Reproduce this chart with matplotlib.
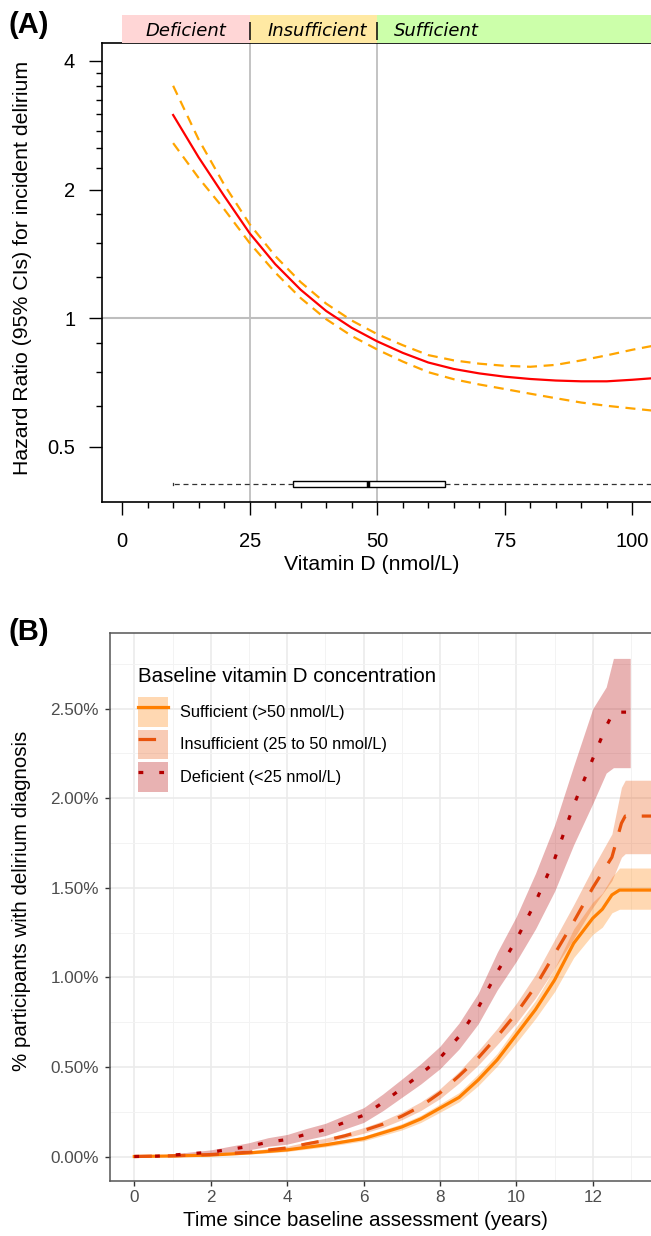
import numpy as np
import matplotlib
matplotlib.use("Agg")
import matplotlib.pyplot as plt
from matplotlib.lines import Line2D
from matplotlib.patches import Patch
from matplotlib.ticker import FixedLocator, FixedFormatter, NullFormatter

plt.rcParams["font.family"] = ["Liberation Sans", "DejaVu Sans"]

# ------------------------------------------------
# DATA - panel A (spline hazard ratio)
# ------------------------------------------------

vitd   = [10, 15, 20, 25, 30, 35, 40, 45, 50, 55, 60, 65, 70, 75, 80, 85, 90, 95, 100, 104]
hr     = [2.99, 2.38, 1.933, 1.581, 1.339, 1.166, 1.04, 0.95, 0.883, 0.83, 0.788, 0.761,
          0.743, 0.730, 0.721, 0.715, 0.712, 0.712, 0.718, 0.724]
hr_lo  = [2.57, 2.13, 1.80, 1.50, 1.28, 1.115, 0.995, 0.909, 0.845, 0.792, 0.748, 0.72,
          0.70, 0.683, 0.666, 0.65, 0.635, 0.624, 0.615, 0.608]
hr_hi  = [3.50, 2.62, 2.055, 1.66, 1.399, 1.215, 1.082, 0.988, 0.918, 0.865, 0.82, 0.797,
          0.783, 0.774, 0.770, 0.778, 0.797, 0.819, 0.844, 0.862]

vitd_box = dict(whislo=10, q1=33.4, med=48.2, q3=63.2, whishi=130)
cuts     = [25, 50]
zones    = [("Deficient", 0, 25, "#FFD6D6"),
            ("Insufficient", 25, 50, "#FFE9A3"),
            ("Sufficient", 50, 110, "#CCFFAA")]

# ------------------------------------------------
# DATA - panel B (cumulative incidence, %)
# ------------------------------------------------

t_suf  = [0, 1, 2, 3, 4, 5, 6, 7, 7.5, 8, 8.5, 9, 9.5, 10, 10.5, 11, 11.5, 12, 12.25, 12.5, 12.7, 13.8]
suf    = [0, 0.003, 0.008, 0.02, 0.037, 0.065, 0.10, 0.165, 0.21, 0.27, 0.33, 0.427, 0.54,
          0.68, 0.82, 0.985, 1.19, 1.33, 1.38, 1.46, 1.487, 1.487]
suf_lo = [0, 0.001, 0.004, 0.013, 0.028, 0.054, 0.087, 0.148, 0.19, 0.247, 0.305, 0.395,
          0.505, 0.635, 0.77, 0.92, 1.11, 1.24, 1.28, 1.36, 1.38, 1.38]
suf_hi = [0, 0.005, 0.012, 0.027, 0.046, 0.077, 0.114, 0.183, 0.23, 0.293, 0.357, 0.46,
          0.576, 0.725, 0.87, 1.05, 1.27, 1.42, 1.47, 1.56, 1.61, 1.61]

t_ins  = [0, 1, 2, 3, 4, 4.5, 5, 5.5, 6, 6.5, 7, 7.5, 8, 8.5, 9, 9.5, 10, 10.5, 11, 11.5,
          12, 12.5, 12.75, 12.85, 13.8]
ins    = [0, 0.004, 0.011, 0.024, 0.048, 0.07, 0.09, 0.115, 0.145, 0.18, 0.225, 0.28, 0.355,
          0.45, 0.55, 0.67, 0.80, 0.95, 1.13, 1.31, 1.50, 1.67, 1.86, 1.90, 1.90]
ins_lo = [0, 0.002, 0.007, 0.018, 0.040, 0.060, 0.079, 0.102, 0.130, 0.162, 0.205, 0.257,
          0.323, 0.41, 0.51, 0.625, 0.745, 0.885, 1.05, 1.215, 1.39, 1.54, 1.67, 1.69, 1.69]
ins_hi = [0, 0.007, 0.016, 0.031, 0.057, 0.081, 0.102, 0.129, 0.161, 0.199, 0.247, 0.305,
          0.378, 0.475, 0.59, 0.715, 0.855, 1.015, 1.21, 1.405, 1.61, 1.80, 2.06, 2.10, 2.10]

t_def  = [0, 0.6, 1, 1.5, 2, 2.5, 3, 3.5, 4, 4.5, 5, 5.5, 6, 6.5, 7, 7.5, 8, 8.5, 9, 9.5,
          10, 10.5, 11, 11.5, 12, 12.35, 12.54, 12.98]
dfc    = [0, 0.002, 0.008, 0.016, 0.024, 0.04, 0.056, 0.08, 0.095, 0.124, 0.15, 0.19, 0.23,
          0.30, 0.38, 0.46, 0.55, 0.67, 0.83, 1.03, 1.21, 1.42, 1.66, 1.96, 2.22, 2.40, 2.48, 2.48]
dfc_lo = [0, 0, 0.003, 0.008, 0.013, 0.025, 0.037, 0.057, 0.069, 0.094, 0.117, 0.153, 0.19,
          0.255, 0.33, 0.405, 0.49, 0.60, 0.74, 0.93, 1.09, 1.27, 1.48, 1.74, 1.97, 2.14, 2.17, 2.17]
dfc_hi = [0, 0.006, 0.014, 0.026, 0.037, 0.057, 0.077, 0.105, 0.123, 0.156, 0.185, 0.229,
          0.272, 0.348, 0.432, 0.518, 0.615, 0.745, 0.91, 1.14, 1.34, 1.58, 1.85, 2.18, 2.50,
          2.62, 2.78, 2.78]

groups = [
    ("Sufficient (>50 nmol/L)", t_suf, suf, suf_lo, suf_hi, "#FF7F00", "-"),
    ("Insufficient (25 to 50 nmol/L)", t_ins, ins, ins_lo, ins_hi, "#E8530C", (0, (5.5, 5))),
    ("Deficient (<25 nmol/L)", t_def, dfc, dfc_lo, dfc_hi, "#B30000", (0, (1.5, 5))),
]

# ------------------------------------------------
# FIGURE
# ------------------------------------------------

W, H = 651, 1236
fig = plt.figure(figsize=(W / 100, H / 100), dpi=100)


def rect(l, t, r, b):
    return [l / W, 1 - b / H, (r - l) / W, (b - t) / H]


# ------------------------------------------------
# PANEL A
# ------------------------------------------------

axA = fig.add_axes(rect(101.7, 43.3, 654.3, 502))
axA.set_yscale("log")
axA.set_xlim(-4, 104.3)
axA.set_ylim(0.3716, 4.40)

for c in cuts:
    axA.axvline(c, color="#BEBEBE", lw=1.3, zorder=1)
axA.axhline(1, color="#BEBEBE", lw=1.5, zorder=1)

axA.plot(vitd, hr_hi, color="#FFA500", lw=1.6, ls=(0, (4.5, 3)), zorder=3)
axA.plot(vitd, hr_lo, color="#FFA500", lw=1.6, ls=(0, (4.5, 3)), zorder=3)
axA.plot(vitd, hr, color="#FF0000", lw=1.6, zorder=4)

axA.bxp([vitd_box], positions=[0.4087], widths=[0.013], orientation="horizontal",
        showfliers=False, patch_artist=True, manage_ticks=False, capwidths=[0.005],
        boxprops=dict(facecolor="white", edgecolor="black", lw=1.0),
        whiskerprops=dict(color="#333333", lw=0.9, ls=(0, (4, 3))),
        capprops=dict(color="#333333", lw=0.9),
        medianprops=dict(color="black", lw=2.5))

axA.yaxis.set_major_locator(FixedLocator([0.5, 1, 2, 4]))
axA.yaxis.set_major_formatter(FixedFormatter(["0.5", "1", "2", "4"]))
axA.yaxis.set_minor_locator(FixedLocator([0.625, 0.75, 0.875, 1.25, 1.5, 1.75,
                                          2.25, 2.5, 2.75, 3, 3.25, 3.5, 3.75]))
axA.yaxis.set_minor_formatter(NullFormatter())
axA.xaxis.set_major_locator(FixedLocator([0, 25, 50, 75, 100]))
axA.xaxis.set_minor_locator(FixedLocator(np.arange(0, 105, 5)))

axA.tick_params(which="major", length=9.6, width=1.0, labelsize=14.5, pad=12, color="black")
axA.tick_params(axis="y", which="major", pad=9.5)
axA.tick_params(which="minor", length=4, width=1.0, color="black")
for s in axA.spines.values():
    s.set_linewidth(1.2)
    s.set_color("black")

axA.set_xlabel("Vitamin D (nmol/L)", fontsize=15.3)
axA.xaxis.label.set_va("center")
axA.xaxis.set_label_coords(0.488, (502 - 564) / 458.7)
axA.set_ylabel("Hazard Ratio (95% CIs) for incident delirium", fontsize=15.3)
axA.yaxis.label.set_va("center")
axA.yaxis.set_label_coords((22 - 101.7) / 552.6, (502 - 268) / 458.7)

# strip of vitamin D categories
strip = fig.add_axes(rect(101.7, 15, 654.3, 43.3))
strip.set_xlim(axA.get_xlim())
strip.set_ylim(0, 1)
for name, a, b, col in zones:
    strip.axvspan(a, b, color=col, lw=0)
strip.text(12.5, 0.44, "Deficient", ha="center", va="center", fontsize=13,
           style="italic", family="DejaVu Sans")
strip.text(25.0, 0.44, "|", ha="center", va="center", fontsize=13, family="DejaVu Sans")
strip.text(38.2, 0.44, "Insufficient", ha="center", va="center", fontsize=13,
           style="italic", family="DejaVu Sans")
strip.text(50.0, 0.44, "|", ha="center", va="center", fontsize=13, family="DejaVu Sans")
strip.text(53.3, 0.44, "Sufficient", ha="left", va="center", fontsize=13,
           style="italic", family="DejaVu Sans")
strip.axis("off")

fig.text(8 / W, 1 - 25 / H, "(A)", fontsize=21, fontweight="bold", va="center", ha="left")

# ------------------------------------------------
# PANEL B
# ------------------------------------------------

axB = fig.add_axes(rect(110, 633.3, 654.3, 1181))
axB.set_xlim(-0.636, 13.61)
axB.set_ylim(-0.1367, 2.920)

for name, t, est, lo, hi, col, ls in groups:
    axB.fill_between(t, lo, hi, color=col, alpha=0.3, lw=0, zorder=2)
for name, t, est, lo, hi, col, ls in groups:
    axB.plot(t, est, color=col, lw=2.3, ls=ls, zorder=3)

axB.xaxis.set_major_locator(FixedLocator(np.arange(0, 13, 2)))
axB.xaxis.set_minor_locator(FixedLocator(np.arange(1, 14, 2)))
axB.yaxis.set_major_locator(FixedLocator(np.arange(0, 2.6, 0.5)))
axB.yaxis.set_minor_locator(FixedLocator(np.arange(0.25, 2.9, 0.5)))
axB.yaxis.set_major_formatter(plt.FuncFormatter(lambda v, p: f"{v:.2f}%"))
axB.grid(which="major", color="#EBEBEB", lw=1.2, zorder=0)
axB.grid(which="minor", color="#F3F3F3", lw=0.7, zorder=0)
axB.set_axisbelow(True)
axB.tick_params(which="major", length=3.5, width=1.0, color="#333333",
                labelcolor="#4D4D4D", labelsize=12.3, pad=3)
axB.tick_params(axis="y", which="major", pad=4.5)
axB.tick_params(which="minor", length=0)
for s in axB.spines.values():
    s.set_linewidth(1.1)
    s.set_color("#555555")

axB.set_xlabel("Time since baseline assessment (years)", fontsize=14.8)
axB.xaxis.label.set_va("center")
axB.xaxis.set_label_coords(0.47, (1181 - 1221) / 547.7)
axB.set_ylabel("% participants with delirium diagnosis", fontsize=14.8)
axB.yaxis.label.set_va("center")
axB.yaxis.set_label_coords((22 - 110) / 544.3, (1181 - 901) / 547.7)

handles = []
for name, t, est, lo, hi, col, ls in groups:
    patch = Patch(facecolor=col, alpha=0.3, edgecolor="none")
    line = Line2D([], [], color=col, lw=2.3, ls=ls)
    handles.append((patch, line))
axB.text((138 - 110) / 544.3, (1181 - 677) / 547.7, "Baseline vitamin D concentration",
         transform=axB.transAxes, fontsize=14.8, ha="left", va="center")
leg = axB.legend(handles, [g[0] for g in groups],
                 loc="upper left", bbox_to_anchor=((138 - 110) / 544.3, (1181 - 697) / 547.7),
                 frameon=False, fontsize=11.8,
                 handlelength=1.85, handleheight=2.4, labelspacing=0.18, handletextpad=0.7,
                 borderpad=0, borderaxespad=0)

fig.text(8 / W, 1 - 632 / H, "(B)", fontsize=21, fontweight="bold", va="center", ha="left")

fig.savefig("out.png", dpi=100)
print("Saved: out.png")
